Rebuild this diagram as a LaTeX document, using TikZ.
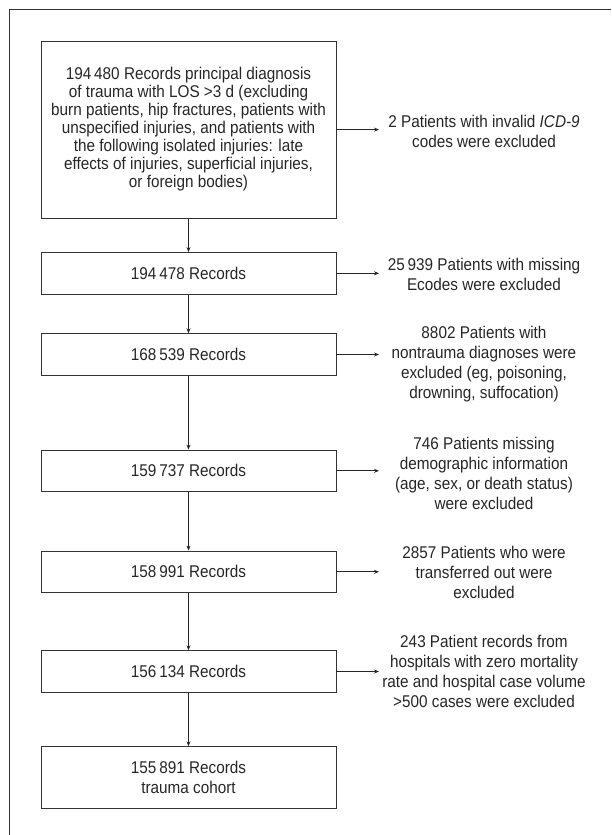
\documentclass[tikz,border=0pt]{standalone}
\usepackage{fontspec}
\setmainfont{Liberation Sans}[FakeStretch=0.9]
\usetikzlibrary{arrows.meta}

\begin{document}
\begin{tikzpicture}[x=1pt, y=-1pt,
  rec/.style={draw=black!80, line width=0.9pt, minimum width=295pt, minimum height=41.5pt, align=center, inner sep=0pt, font=\fontsize{17}{20}\selectfont, text=black!85},
  excl/.style={align=center, inner sep=0pt, font=\fontsize{17}{20}\selectfont, text=black!85},
  arr/.style={draw=black!85, line width=0.8pt, -{Stealth[length=5pt,width=4pt]}},
  frame/.style={draw=black!80, line width=1pt}]
\useasboundingbox (0,0) rectangle (611,835);
\draw[frame] (611,9) -- (9,9) -- (9,835);
\node[rec, minimum height=177pt, font=\fontsize{17}{18}\selectfont] (r1) at (188.5,129.6){194\,480 Records principal diagnosis\\of trauma with LOS >3 d (excluding\\burn patients, hip fractures, patients with\\unspecified injuries, and patients with\\the following isolated injuries: late\\effects of injuries, superficial injuries,\\or foreign bodies)};
\node[rec] (r2) at (188.5,273.3){194\,478 Records};
\node[rec] (r3) at (188.5,354.5){168\,539 Records};
\node[rec] (r4) at (188.5,470.8){159\,737 Records};
\node[rec] (r5) at (188.5,571.8){158\,991 Records};
\node[rec] (r6) at (188.5,671.5){156\,134 Records};
\node[rec, minimum height=61.3pt] (r7) at (188.5,777.4){155\,891 Records\\trauma cohort};
\draw[arr](r1) -- (r2);
\draw[arr](r2) -- (r3);
\draw[arr](r3) -- (r4);
\draw[arr](r4) -- (r5);
\draw[arr](r5) -- (r6);
\draw[arr](r6) -- (r7);
\node[excl] (e1) at (484,131){2 Patients with invalid \textit{ICD-9}\\codes were excluded};
\node[excl] (e2) at (484,274){25\,939 Patients with missing\\Ecodes were excluded};
\node[excl] (e3) at (484,364){8802 Patients with\\nontrauma diagnoses were\\excluded (eg, poisoning,\\drowning, suffocation)};
\node[excl] (e4) at (484,473){746 Patients missing\\demographic information\\(age, sex, or death status)\\were excluded};
\node[excl] (e5) at (484,572){2857 Patients who were\\transferred out were\\excluded};
\node[excl] (e6) at (484,671){243 Patient records from\\hospitals with zero mortality\\rate and hospital case volume\\>500 cases were excluded};
\coordinate (tip) at (379,0);
\draw[arr](r1.east) -- (r1.east -| tip);
\draw[arr](r2.east) -- (r2.east -| tip);
\draw[arr](r3.east) -- (r3.east -| tip);
\draw[arr](r4.east) -- (r4.east -| tip);
\draw[arr](r5.east) -- (r5.east -| tip);
\draw[arr](r6.east) -- (r6.east -| tip);
\end{tikzpicture}
\end{document}
